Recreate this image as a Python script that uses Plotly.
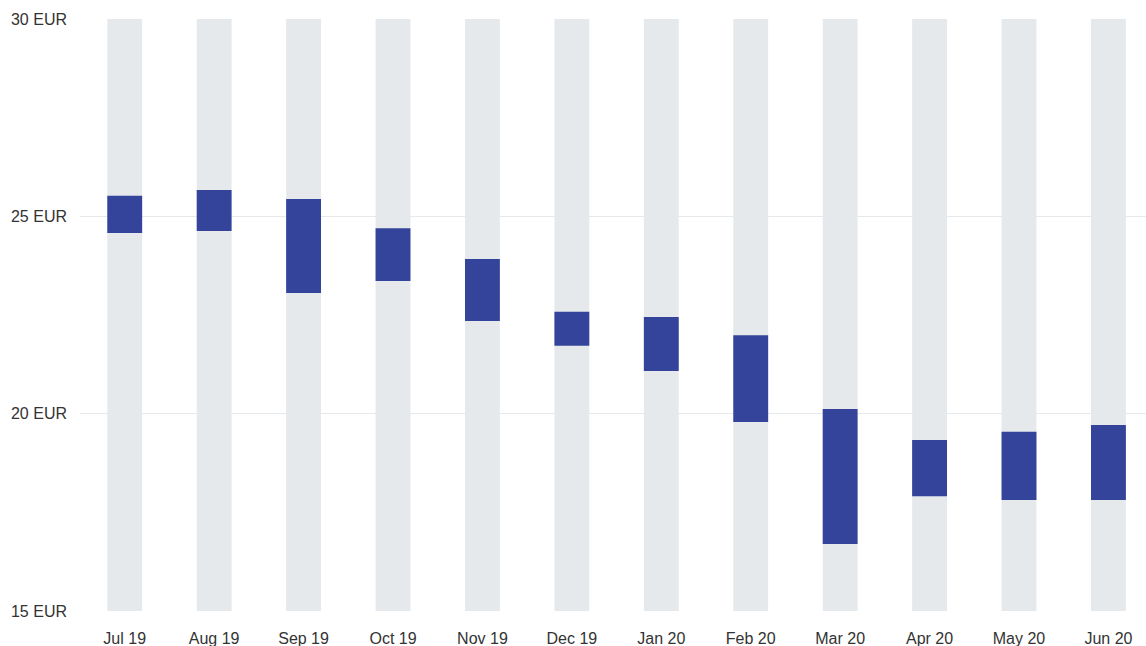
import plotly.graph_objects as go

months = ["Jul 19", "Aug 19", "Sep 19", "Oct 19", "Nov 19", "Dec 19",
          "Jan 20", "Feb 20", "Mar 20", "Apr 20", "May 20", "Jun 20"]
low = [24.58, 24.63, 23.06, 23.36, 22.35, 21.72, 21.08, 19.79, 16.70, 17.91, 17.81, 17.81]
high = [25.52, 25.67, 25.44, 24.70, 23.92, 22.58, 22.45, 21.99, 20.12, 19.33, 19.54, 19.71]
axis_min = 15
axis_max = 30
tick_vals = [15, 20, 25, 30]
tick_text = ["15 EUR", "20 EUR", "25 EUR", "30 EUR"]

fig = go.Figure()
fig.add_trace(go.Bar(
    x=months, y=[axis_max - axis_min] * len(months), base=[axis_min] * len(months),
    marker=dict(color="#e6e9ec", line=dict(width=0)), hoverinfo="skip", showlegend=False,
))
fig.add_trace(go.Bar(
    x=months, y=[h - l for h, l in zip(high, low)], base=low,
    marker=dict(color="#33449a", line=dict(width=0)), showlegend=False,
    customdata=list(zip(low, high)),
    hovertemplate="%{x}<br>%{customdata[0]:.2f} – %{customdata[1]:.2f} EUR<extra></extra>",
))

fig.update_layout(
    width=1146, height=646,
    margin=dict(l=80, r=0, t=19, b=35),
    barmode="overlay", bargap=0.61,
    plot_bgcolor="white", paper_bgcolor="white",
    font=dict(family="Liberation Sans, Arial, sans-serif", size=16, color="#333333"),
    xaxis=dict(range=[-0.5, 11.42], showgrid=False, zeroline=False, showline=False,
               ticks="", ticklabelstandoff=16),
    yaxis=dict(range=[axis_min, axis_max], tickvals=tick_vals, ticktext=tick_text,
               showgrid=True, gridcolor="#e6e9ec", gridwidth=1, zeroline=False,
               showline=False, ticks="", ticklabelstandoff=12),
)

fig.write_html(
    "out.html",
    config={"displayModeBar": False},
    post_script="document.body.style.margin='0';document.body.style.overflow='hidden';",
)
